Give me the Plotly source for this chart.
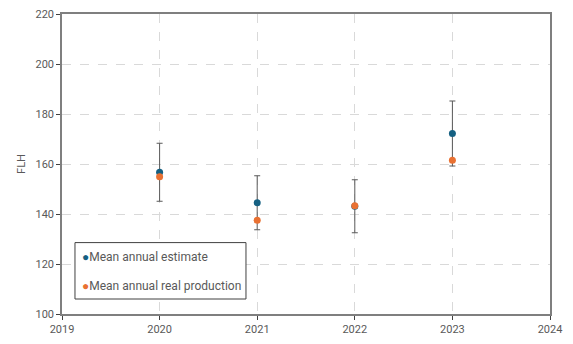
import plotly.graph_objects as go

years = [2020, 2021, 2022, 2023]
mean_estimate = [156.7, 144.5, 143.1, 172.2]
mean_real = [154.9, 137.5, 143.3, 161.5]
estimate_err = [11.6, 10.8, 10.6, 13.0]

BLUE = "#156082"
ORANGE = "#E97132"
TXT = "#595959"
FONT = "Roboto"

series_names = ["Mean annual estimate", "Mean annual real production"]

fig = go.Figure()
fig.add_trace(go.Scatter(
    x=years, y=mean_estimate, mode="markers", name=series_names[0],
    marker=dict(color=BLUE, size=7),
    error_y=dict(type="data", array=estimate_err, visible=True,
                 color="#595959", thickness=1, width=3),
    showlegend=False,
))
fig.add_trace(go.Scatter(
    x=years, y=mean_real, mode="markers", name=series_names[1],
    marker=dict(color=ORANGE, size=7),
    showlegend=False,
))

axis_common = dict(
    showgrid=True, gridcolor="#d9d9d9", griddash="dash", gridwidth=1,
    showline=True, linecolor="#7f7f7f", linewidth=1.5, mirror=True,
    ticks="outside", ticklen=4, tickcolor="#404040",
    tickfont=dict(family=FONT, size=11, color=TXT),
    zeroline=False,
)

fig.update_xaxes(range=[2019, 2024], dtick=1, tick0=2019, **axis_common)
fig.update_yaxes(range=[100, 220], dtick=20,
                 title=dict(text="FLH", font=dict(family=FONT, size=11, color=TXT), standoff=8),
                 **axis_common)

# Compact boxed legend: coloured dot right against the series label
fig.add_shape(type="rect", xref="paper", yref="paper",
              x0=0.0266, x1=0.377, y0=0.05, y1=0.238,
              line=dict(color="#404040", width=1), fillcolor="white", layer="above")
for name, color, ypos in [(series_names[0], BLUE, 0.19), (series_names[1], ORANGE, 0.093)]:
    fig.add_annotation(
        xref="paper", yref="paper", x=0.036, y=ypos, xanchor="left", yanchor="middle",
        showarrow=False,
        text=f"<span style='color:{color}; font-size:12px'>●</span>{name}",
        font=dict(family=FONT, size=12, color="#595959"),
    )

fig.update_layout(
    width=573, height=344,
    margin=dict(l=62, r=23, t=8, b=28),
    plot_bgcolor="white", paper_bgcolor="white",
    font=dict(family=FONT, size=11, color=TXT),
    showlegend=False,
)

fig.write_html("out.html")
